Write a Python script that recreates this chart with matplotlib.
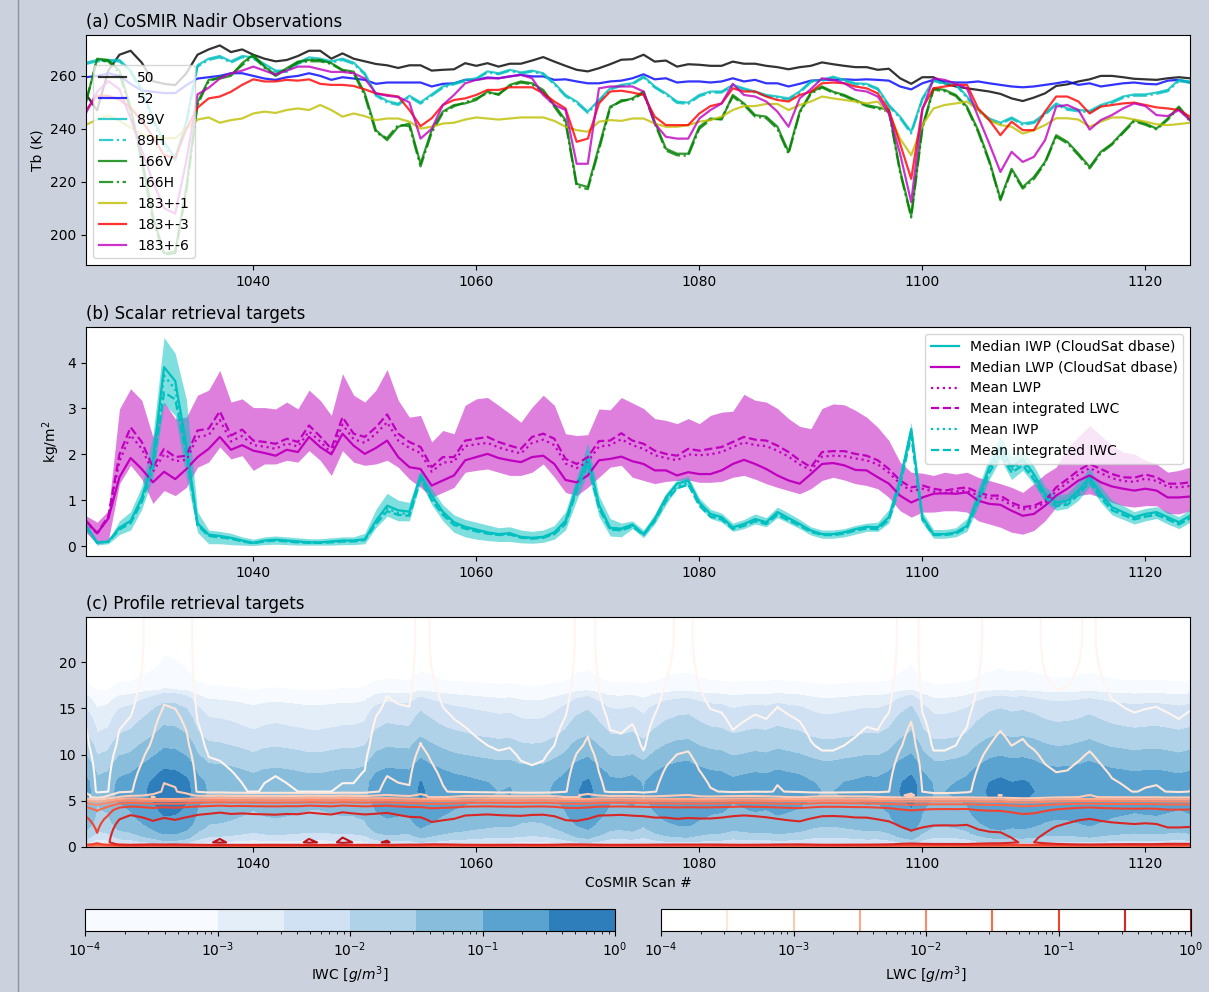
import numpy as np
import matplotlib.pyplot as plt
from matplotlib.colors import LogNorm, ListedColormap
from matplotlib.ticker import LogLocator

plt.rcParams['font.family'] = ['DejaVu Sans']
plt.rcParams['font.size'] = 10

scans = np.arange(1025, 1125)

# (a) 亮温 (K)，每行 10 个扫描
tb_50 = [253, 247, 262, 268, 269.5, 265, 258, 257, 256.5, 261,
         268, 270, 271.5, 269, 270, 268, 266.5, 265.5, 266, 267.5,
         269.5, 269.5, 266.5, 268.5, 266.5, 265.5, 264.5, 264, 263, 264,
         264, 262, 262.3, 262.5, 264.8, 263.8, 264.8, 263.5, 264.6, 264.6,
         265.8, 267.1, 265.4, 263.8, 262.3, 261.7, 262.9, 264.4, 266.1, 266.3,
         268, 265.4, 265.8, 263.5, 264.4, 264.2, 263.8, 263.8, 265.4, 264.6,
         264.6, 263.8, 263.3, 262.5, 263.3, 263.8, 265.1, 264.4, 263.8, 263.3,
         263.3, 262.3, 262.7, 259.1, 257, 259.5, 259.5, 257.2, 256, 255.3,
         254.7, 254.1, 253.2, 251.5, 250.5, 251.8, 253.4, 256.2, 256.8, 257.9,
         258.7, 260, 260, 259.5, 258.9, 258.7, 258.5, 259.1, 259.5, 259.1]
tb_52 = [259.5, 260, 261, 260, 257, 254.5, 254, 253.5, 253.5, 256.5,
         259, 259.5, 260, 261, 261, 260, 259, 258.5, 259.5, 260,
         261, 260, 258.5, 259.5, 259, 258.5, 257, 257.5, 257.5, 257.5,
         257.5, 256, 257, 257.2, 258.5, 258.5, 259.4, 259.1, 259.8, 260.4,
         259.8, 259.8, 258.5, 258.7, 257.9, 257.2, 257.2, 257.9, 258.2, 259.1,
         260.6, 258.7, 259.1, 257.5, 257.9, 257.9, 257.5, 257.9, 259.1, 257.9,
         258.5, 257.2, 257.2, 256, 257, 258.2, 258.5, 258.5, 258.7, 258.5,
         258.7, 258.5, 258.2, 256, 254.9, 257.2, 258.5, 257.9, 257.5, 257.5,
         257.9, 257.2, 256.6, 256, 255.7, 256, 256.6, 257.2, 257.9, 256.6,
         257.2, 256, 256.6, 257.2, 257.5, 257, 256.8, 258.2, 258.5, 257.5]
tb_89v = [265, 266, 266, 266, 262, 255, 244, 235, 229, 243,
          264, 266.5, 267.5, 265.5, 267.5, 267, 264.5, 262, 262, 265,
          267, 266.5, 265.5, 266.5, 265, 261, 253, 250.5, 249.5, 252.5,
          250, 253, 256, 257.2, 258.5, 259.1, 261.7, 261, 262.3, 261.3,
          262, 261, 257.2, 252.8, 250.3, 246.5, 250.9, 255.3, 256.6, 257.2,
          259.8, 256, 253.4, 250.3, 249.9, 252.8, 254.1, 254.1, 256.6, 255.3,
          254.1, 252.8, 252.2, 251.5, 254.1, 258, 258.5, 259.7, 258.5, 257.2,
          257, 255.3, 249, 244.6, 238.9, 251.5, 258.5, 257.2, 257, 252.2,
          247.1, 243.9, 242.3, 244.3, 242, 242.7, 245.8, 249.6, 247.7, 247.1,
          246.8, 249, 250.3, 252.2, 253, 253, 253.7, 254.7, 258.5, 257.9]
tb_89h = [264.5, 265.5, 265.5, 265.5, 261.5, 254, 243, 233.5, 228, 242,
          263.5, 266, 267, 265, 267, 266.5, 264, 261.5, 261.5, 264.5,
          266.5, 266, 265, 266, 264.5, 260.5, 252.5, 250, 249, 252,
          249.5, 252.5, 255.5, 256.8, 258, 258.7, 261.3, 260.6, 261.9, 260.9,
          261.6, 260.6, 256.8, 252.3, 249.8, 246, 250.4, 254.8, 256.2, 256.8,
          259.4, 255.6, 253, 249.8, 249.4, 252.3, 253.6, 253.7, 256.2, 254.9,
          253.7, 252.4, 251.8, 251, 253.6, 257.6, 258.1, 259.3, 258.1, 256.8,
          256.6, 254.9, 248.5, 244, 238.2, 251, 258.1, 256.8, 256.6, 251.7,
          246.6, 243.4, 241.8, 243.8, 241.5, 242.2, 245.3, 249.1, 247.2, 246.6,
          246.3, 248.5, 249.8, 251.7, 252.5, 252.5, 253.2, 254.2, 258, 257.4]
tb_166v = [250, 266.5, 266, 262, 248, 229, 207, 193, 193.5, 218,
           250, 258.5, 259, 260, 264.8, 268, 263.5, 260.4, 262.9, 265.4,
           266, 266, 264.8, 262.3, 261.6, 253.4, 239.5, 235.7, 240.8, 242,
           226.8, 239.5, 246.5, 249, 249.6, 250.9, 254.1, 252.8, 256.6, 257.9,
           257.2, 254.7, 249, 243.3, 219.2, 218, 233.2, 248.4, 250.3, 251.5,
           254.1, 242.7, 232.5, 230.6, 230.6, 240.8, 243.9, 243.5, 252.8, 249.6,
           245.2, 244.6, 240.8, 231.3, 246.5, 253.7, 256, 254, 252.8, 250.9,
           249, 248.1, 247.1, 224.3, 207.2, 240.8, 255.3, 254.7, 252.8, 248.4,
           239.5, 228.1, 213.5, 224.9, 218, 221.8, 227.5, 237.6, 235.1, 230.6,
           225.6, 231.3, 234.4, 238.9, 243.3, 242, 240.1, 243.9, 248.4, 243.3]
tb_166h = [250.5, 266, 265.5, 261, 246.5, 227.5, 205.5, 192.5, 193, 216.5,
           249, 258, 259.5, 260.5, 264, 267.5, 263, 260, 262.5, 265,
           265.5, 265.5, 264.5, 262, 261, 252.5, 238.5, 236.5, 241.5, 241,
           225.8, 238.5, 246, 248.5, 250, 251.5, 253.5, 253.2, 256, 257.5,
           256.8, 254, 248.3, 242.5, 218.2, 217.2, 232, 247.8, 250.8, 251,
           253.6, 242, 231.8, 230, 229.8, 240, 243.4, 244, 252.2, 249,
           244.6, 244, 240, 230.5, 246, 253.2, 255.6, 253.6, 252.4, 250.4,
           248.6, 247.6, 246.5, 223.5, 206.5, 240, 254.8, 254.2, 252.4, 247.8,
           238.8, 227.4, 213, 224.2, 217.4, 221, 227, 237, 234.5, 230,
           225, 230.8, 234, 238.4, 242.8, 241.5, 239.8, 243.4, 248, 242.8]
tb_183_1 = [241.5, 243.5, 245, 243, 240.5, 238, 237, 236.5, 236.5, 240,
            243.5, 244.3, 242.3, 243.3, 243.9, 245.8, 246.5, 246, 247.1, 247.7,
            247.1, 249, 247.1, 244.6, 245.8, 244.8, 243.3, 243.9, 243.9, 242.7,
            240.1, 240.8, 242, 242.3, 243.5, 244.3, 243.9, 243.5, 243.9, 244.3,
            244.3, 244.3, 243, 240.8, 239.5, 238.9, 242.7, 243.3, 243, 243.9,
            243.9, 242, 240.8, 240.8, 241.4, 242.7, 243.3, 244.6, 247.1, 248.6,
            248.6, 249.4, 249.4, 247.1, 249, 250.3, 252.2, 251.5, 250.9, 250.3,
            249.6, 250.3, 245.8, 236.3, 230, 241.4, 247.7, 249, 249.6, 250.3,
            247.1, 243.3, 241.4, 240.8, 238.2, 239.5, 241.4, 244, 244, 243.5,
            240.8, 242.7, 244.3, 244.3, 243.5, 242.7, 241.7, 241.4, 241.8, 242.3]
tb_183_3 = [247, 252.5, 252.5, 251, 248, 243, 237, 230, 229, 240,
            248, 251.5, 252.2, 254, 256.6, 258.7, 257.9, 257.9, 258.5, 258.2,
            258.7, 257, 256.6, 256.6, 256.2, 254.9, 253.4, 252.8, 252.2, 247.1,
            241, 244, 249, 250.9, 251.5, 252.8, 254.7, 254.7, 255.7, 255.7,
            255.7, 253.4, 250.3, 247.7, 235.1, 236.3, 249.6, 254.1, 254.4, 253.7,
            252.8, 244.6, 241.4, 241.4, 241.4, 245.8, 248.6, 249.6, 255.3, 254.1,
            254.1, 252.2, 250.9, 250.3, 252.8, 254, 257.2, 257.5, 257.2, 256,
            255.3, 253.4, 247.1, 234.4, 221.1, 247.7, 255.3, 256, 256.6, 256.6,
            247.7, 243.3, 237.6, 242.7, 239.5, 239.5, 246.5, 252.2, 252.2, 250.3,
            245.8, 248.4, 249, 249.6, 249.9, 249, 248.1, 247.7, 247.1, 244.6]
tb_183_6 = [246, 254, 258, 255, 244, 232, 220, 210, 208, 228,
            253, 255.5, 259, 261, 262, 263.5, 262, 260.5, 262, 263.5,
            263.5, 262.5, 261.5, 261.5, 261, 259, 253.4, 252.5, 252, 250,
            236.3, 240, 249, 252.8, 257.2, 258.5, 259.1, 259.1, 259.8, 260.4,
            259.1, 252.8, 249, 247.1, 226.8, 226.8, 255.3, 256, 256, 256,
            254.1, 242, 237, 236.3, 236.3, 243.9, 247.1, 249.6, 257, 252.8,
            252.2, 250.3, 246.5, 240.8, 251.5, 255, 259.1, 258.5, 257.2, 254.7,
            254.1, 252.2, 245.8, 230.6, 212.3, 247.1, 259.1, 258.5, 257, 255.3,
            244.6, 234.4, 223.7, 231.3, 227.5, 229.4, 235.7, 248.4, 249, 247.1,
            239.7, 243.3, 245.2, 247.7, 249.6, 248.6, 245.2, 244.8, 247.1, 243.3]

# (b) 标量反演目标 (kg/m2)
iwp_median = [0.45, 0.08, 0.1, 0.4, 0.55, 1.05, 1.85, 3.9, 3.6, 2.2,
              0.5, 0.25, 0.22, 0.18, 0.12, 0.07, 0.12, 0.14, 0.12, 0.1,
              0.08, 0.08, 0.1, 0.12, 0.12, 0.15, 0.55, 0.88, 0.78, 0.75,
              1.55, 1.1, 0.75, 0.52, 0.42, 0.36, 0.3, 0.26, 0.28, 0.2,
              0.18, 0.2, 0.3, 0.55, 1.3, 1.95, 0.9, 0.4, 0.38, 0.47,
              0.26, 0.59, 1.06, 1.36, 1.43, 0.95, 0.7, 0.63, 0.41, 0.48,
              0.59, 0.52, 0.74, 0.61, 0.48, 0.34, 0.26, 0.26, 0.3, 0.37,
              0.42, 0.41, 0.63, 1.43, 2.55, 0.63, 0.26, 0.26, 0.3, 0.44,
              1.06, 1.72, 2.16, 1.72, 1.9, 1.57, 1.14, 0.95, 0.99, 1.21,
              1.5, 1.14, 0.85, 0.74, 0.63, 0.7, 0.74, 0.63, 0.52, 0.66]
iwp_mean = [0.43, 0.08, 0.1, 0.38, 0.52, 1.0, 1.78, 3.72, 3.42, 2.1,
            0.47, 0.23, 0.2, 0.17, 0.11, 0.07, 0.11, 0.13, 0.11, 0.09,
            0.08, 0.08, 0.09, 0.11, 0.11, 0.14, 0.52, 0.82, 0.72, 0.7,
            1.5, 1.05, 0.71, 0.49, 0.4, 0.34, 0.28, 0.25, 0.27, 0.19,
            0.17, 0.19, 0.28, 0.52, 1.25, 1.88, 0.86, 0.38, 0.36, 0.45,
            0.25, 0.56, 1.02, 1.3, 1.38, 0.9, 0.66, 0.6, 0.39, 0.46,
            0.56, 0.5, 0.7, 0.58, 0.46, 0.32, 0.25, 0.25, 0.28, 0.35,
            0.4, 0.39, 0.6, 1.38, 2.48, 0.6, 0.25, 0.25, 0.28, 0.42,
            1.0, 1.66, 2.08, 1.66, 1.83, 1.5, 1.1, 0.9, 0.94, 1.16,
            1.44, 1.09, 0.81, 0.7, 0.6, 0.66, 0.7, 0.6, 0.49, 0.62]
iwc_int = [0.42, 0.07, 0.09, 0.36, 0.5, 0.96, 1.7, 3.35, 3.2, 2.0,
           0.45, 0.22, 0.19, 0.16, 0.1, 0.06, 0.1, 0.12, 0.1, 0.08,
           0.07, 0.07, 0.08, 0.1, 0.1, 0.13, 0.48, 0.76, 0.68, 0.66,
           1.45, 1.0, 0.68, 0.46, 0.38, 0.32, 0.27, 0.24, 0.25, 0.18,
           0.16, 0.18, 0.26, 0.48, 1.2, 1.8, 0.82, 0.36, 0.34, 0.43,
           0.24, 0.54, 0.98, 1.26, 1.34, 0.88, 0.64, 0.58, 0.37, 0.44,
           0.54, 0.48, 0.68, 0.56, 0.44, 0.31, 0.24, 0.24, 0.27, 0.34,
           0.38, 0.37, 0.57, 1.32, 2.4, 0.57, 0.24, 0.24, 0.27, 0.4,
           0.96, 1.6, 2.0, 1.6, 1.76, 1.45, 1.06, 0.87, 0.9, 1.12,
           1.4, 1.05, 0.78, 0.68, 0.58, 0.64, 0.68, 0.58, 0.47, 0.6]
iwp_lo = [0.35, 0.02, 0.05, 0.25, 0.35, 0.8, 1.5, 3.1, 2.85, 1.5,
          0.3, 0.05, 0.05, 0.03, 0.02, 0.01, 0.03, 0.04, 0.03, 0.02,
          0.02, 0.02, 0.02, 0.03, 0.03, 0.05, 0.4, 0.65, 0.55, 0.55,
          1.4, 0.9, 0.55, 0.3, 0.2, 0.15, 0.12, 0.1, 0.1, 0.07,
          0.06, 0.08, 0.15, 0.35, 1.0, 1.6, 0.65, 0.22, 0.2, 0.38,
          0.18, 0.48, 0.9, 1.25, 1.32, 0.85, 0.6, 0.52, 0.32, 0.38,
          0.48, 0.42, 0.62, 0.5, 0.38, 0.24, 0.17, 0.17, 0.2, 0.26,
          0.32, 0.32, 0.5, 1.3, 2.4, 0.5, 0.17, 0.17, 0.2, 0.32,
          0.85, 1.45, 1.9, 1.45, 1.65, 1.35, 0.95, 0.78, 0.82, 1.0,
          1.3, 0.95, 0.68, 0.58, 0.48, 0.55, 0.6, 0.48, 0.38, 0.52]
iwp_hi = [0.5, 0.1, 0.12, 0.55, 0.75, 1.3, 2.4, 4.55, 4.2, 3.2,
          0.75, 0.35, 0.32, 0.28, 0.2, 0.15, 0.2, 0.22, 0.2, 0.18,
          0.16, 0.16, 0.18, 0.2, 0.2, 0.28, 0.8, 1.15, 1.0, 0.95,
          1.65, 1.25, 0.9, 0.68, 0.58, 0.52, 0.46, 0.4, 0.42, 0.35,
          0.32, 0.35, 0.45, 0.75, 1.5, 2.25, 1.1, 0.6, 0.5, 0.55,
          0.35, 0.7, 1.15, 1.45, 1.52, 1.05, 0.8, 0.72, 0.5, 0.58,
          0.7, 0.62, 0.85, 0.72, 0.58, 0.42, 0.35, 0.35, 0.38, 0.45,
          0.5, 0.52, 0.8, 1.6, 2.7, 0.75, 0.36, 0.36, 0.4, 0.6,
          1.25, 1.95, 2.4, 1.95, 2.1, 1.75, 1.3, 1.1, 1.15, 1.4,
          1.7, 1.3, 1.0, 0.88, 0.75, 0.82, 0.86, 0.75, 0.64, 0.8]
lwp_median = [0.55, 0.28, 0.6, 1.5, 1.92, 1.68, 1.39, 1.62, 1.46, 1.68,
              1.94, 2.12, 2.38, 2.1, 2.2, 2.08, 2.03, 1.97, 2.1, 2.05,
              2.38, 2.16, 2.0, 2.45, 2.19, 2.01, 2.14, 2.3, 1.94, 1.72,
              1.68, 1.32, 1.43, 1.54, 1.87, 1.94, 2.01, 1.92, 1.87, 1.83,
              1.94, 1.97, 1.79, 1.44, 1.39, 1.54, 1.87, 1.9, 1.95, 1.85,
              1.79, 1.65, 1.65, 1.54, 1.61, 1.57, 1.57, 1.65, 1.79, 1.88,
              1.79, 1.68, 1.54, 1.43, 1.36, 1.57, 1.79, 1.81, 1.76, 1.66,
              1.65, 1.5, 1.36, 1.1, 0.95, 1.06, 1.14, 1.15, 1.14, 1.17,
              0.99, 0.92, 0.9, 0.77, 0.66, 0.7, 0.88, 1.1, 1.25, 1.43,
              1.54, 1.39, 1.3, 1.25, 1.21, 1.25, 1.21, 1.06, 1.06, 1.08]
lwp_mean = [0.52, 0.27, 0.62, 1.85, 2.42, 2.12, 1.62, 2.0, 1.85, 1.88,
            2.38, 2.42, 2.75, 2.28, 2.4, 2.2, 2.17, 2.12, 2.24, 2.17,
            2.5, 2.28, 2.03, 2.65, 2.33, 2.25, 2.45, 2.7, 2.3, 2.14,
            2.03, 1.62, 1.82, 1.84, 2.18, 2.22, 2.25, 2.15, 2.08, 2.02,
            2.25, 2.32, 2.2, 1.8, 1.7, 1.84, 2.17, 2.2, 2.33, 2.2,
            2.12, 1.98, 1.92, 1.87, 2.0, 1.98, 2.0, 2.05, 2.16, 2.26,
            2.2, 2.18, 2.08, 1.95, 1.78, 1.65, 1.95, 1.97, 1.96, 1.91,
            1.87, 1.78, 1.6, 1.36, 1.2, 1.25, 1.19, 1.15, 1.19, 1.21,
            1.1, 1.04, 1.03, 0.89, 0.8, 0.83, 0.94, 1.2, 1.38, 1.56,
            1.7, 1.59, 1.48, 1.42, 1.4, 1.47, 1.42, 1.29, 1.28, 1.31]
lwc_int = [0.55, 0.28, 0.65, 2.0, 2.59, 2.27, 1.72, 2.12, 1.94, 1.97,
           2.52, 2.56, 2.94, 2.41, 2.54, 2.3, 2.27, 2.23, 2.34, 2.27,
           2.63, 2.39, 2.12, 2.81, 2.45, 2.38, 2.59, 2.87, 2.45, 2.27,
           2.16, 1.72, 1.94, 1.94, 2.3, 2.34, 2.38, 2.27, 2.19, 2.12,
           2.38, 2.45, 2.34, 1.9, 1.79, 1.94, 2.29, 2.3, 2.46, 2.3,
           2.23, 2.08, 2.01, 1.97, 2.12, 2.08, 2.12, 2.16, 2.27, 2.38,
           2.32, 2.3, 2.19, 2.05, 1.87, 1.72, 2.05, 2.07, 2.07, 2.01,
           1.97, 1.87, 1.68, 1.43, 1.28, 1.32, 1.25, 1.21, 1.25, 1.28,
           1.17, 1.1, 1.1, 0.95, 0.85, 0.88, 0.99, 1.28, 1.46, 1.65,
           1.79, 1.68, 1.57, 1.5, 1.49, 1.56, 1.5, 1.36, 1.36, 1.39]
lwp_lo = [0.3, 0.04, 0.12, 1.36, 1.76, 1.46, 0.93, 1.21, 1.1, 1.28,
          1.72, 1.83, 2.16, 1.9, 1.97, 1.65, 1.79, 1.79, 1.87, 1.83,
          2.08, 1.87, 1.54, 2.08, 1.83, 1.76, 1.79, 1.87, 1.72, 1.46,
          1.28, 1.06, 1.17, 1.28, 1.61, 1.65, 1.68, 1.61, 1.54, 1.54,
          1.61, 1.79, 1.5, 1.17, 1.1, 1.28, 1.5, 1.72, 1.76, 1.5,
          1.43, 1.36, 1.41, 1.43, 1.44, 1.39, 1.39, 1.41, 1.5, 1.54,
          1.46, 1.36, 1.28, 1.21, 1.14, 1.25, 1.43, 1.5, 1.44, 1.36,
          1.32, 1.25, 1.06, 0.77, 0.63, 0.74, 0.74, 0.77, 0.77, 0.74,
          0.55, 0.48, 0.41, 0.3, 0.26, 0.34, 0.55, 0.85, 0.99, 1.1,
          1.14, 1.06, 0.95, 0.88, 0.85, 0.88, 0.88, 0.71, 0.7, 0.77]
lwp_hi = [0.66, 0.52, 0.77, 2.99, 3.43, 3.18, 2.38, 3.14, 2.78, 2.81,
          3.29, 3.4, 3.83, 3.14, 3.21, 3.02, 3.02, 2.99, 3.14, 2.99,
          3.4, 3.18, 2.85, 3.76, 3.29, 3.14, 3.4, 3.85, 3.18, 2.81,
          2.85, 2.27, 2.52, 2.45, 3.07, 3.21, 3.24, 3.07, 2.89, 2.7,
          3.03, 3.29, 3.07, 2.45, 2.41, 2.43, 2.99, 2.97, 3.24, 3.12,
          3.0, 2.78, 2.74, 2.67, 2.78, 2.67, 2.85, 2.92, 2.94, 3.31,
          3.18, 3.14, 3.0, 2.78, 2.61, 2.56, 3.0, 3.1, 3.08, 2.96,
          2.81, 2.59, 2.3, 1.83, 1.61, 1.59, 1.54, 1.61, 1.57, 1.61,
          1.5, 1.43, 1.36, 1.28, 1.17, 1.36, 1.57, 1.72, 2.16, 2.38,
          2.63, 2.41, 2.19, 2.05, 2.01, 1.87, 1.79, 1.61, 1.65, 1.72]

# (c) 廓线：高度 (km)、垂直形状 (每单位柱强度) 和每个扫描的冰柱强度
heights = [0, 0.15, 0.3, 0.5, 1, 1.5, 2, 2.5, 3, 3.5, 4, 4.4, 4.7, 5.0, 5.2, 5.4, 5.6,
           6, 7, 8, 9, 10, 11, 12, 13, 14, 15, 16, 17, 18, 19, 20, 22, 24.9]
ice_shape = [1e-5, 5e-5, 1e-4, 0.0015, 0.005, 0.01, 0.015, 0.02, 0.025, 0.03, 0.035,
             0.038, 0.041, 0.045, 0.048, 0.05, 0.052, 0.055, 0.05, 0.034, 0.02, 0.012,
             0.0075, 0.0045, 0.003, 0.002, 0.0013, 0.0006, 0.0001, 3e-5, 1.5e-5,
             1e-5, 7e-6, 5e-6]
liq_shape = [1e-6, 0.02, 0.25, 0.45, 0.41, 0.36, 0.31, 0.26, 0.21, 0.16, 0.10,
             0.05, 0.02, 0.006, 0.002, 0.0007, 0.0003, 0, 0, 0, 0, 0, 0, 0, 0, 0,
             0, 0, 0, 0, 0, 0, 0, 0]
liq_upper = [0, 0, 0, 0, 0, 0, 0, 0, 0, 0, 0, 0, 0, 0, 0, 0, 1e-4,
             1e-4, 9e-5, 8e-5, 7e-5, 6e-5, 5e-5, 4.5e-5, 4e-5, 3.5e-5, 3e-5, 2.7e-5,
             2.5e-5, 2.3e-5, 2.2e-5, 2.1e-5, 2e-5, 2e-5]
ice_col = [2.5, 0.8, 1.0, 2.4, 2.9, 4.6, 7.0, 11, 10.5, 7.5,
           2.7, 1.6, 1.5, 1.3, 1.1, 0.9, 1.1, 1.2, 1.1, 1.0,
           0.9, 0.9, 1.0, 1.1, 1.1, 1.3, 2.9, 3.8, 3.5, 3.4,
           6.5, 4.6, 3.4, 2.8, 2.5, 2.2, 2.0, 1.8, 1.9, 1.5,
           1.4, 1.5, 2.0, 2.9, 5.4, 7.0, 4.0, 2.4, 2.3, 2.6,
           1.8, 3.0, 4.3, 5.3, 5.6, 4.1, 3.3, 3.1, 2.4, 2.7,
           3.0, 2.8, 3.4, 3.0, 2.7, 2.1, 1.8, 1.8, 2.0, 2.2,
           2.5, 2.4, 3.1, 5.8, 8.5, 3.1, 1.8, 1.8, 2.0, 2.5,
           4.3, 6.3, 7.5, 6.3, 6.8, 5.8, 4.5, 4.0, 4.1, 4.7,
           5.6, 4.5, 3.7, 3.4, 3.1, 3.3, 3.4, 3.1, 2.8, 3.2]

iwc = np.outer(ice_shape, ice_col)
lwc = np.outer(liq_shape, lwp_median) + np.outer(liq_upper, ice_col)

iwc_levels = [1e-4, 1e-3, 10**-2.5, 1e-2, 10**-1.5, 1e-1, 10**-0.5, 1]
lwc_levels = np.logspace(-4, 0, 9)
# 每一层的颜色 (第 0 项只是占位)
iwc_colors = ['#f7fbff', '#f7fbff', '#e3eef9', '#cfe1f2', '#b0d2e8',
              '#88bedc', '#5aa2cf', '#2f7ebc']
blues = ListedColormap(iwc_colors)
reds = ListedColormap(plt.cm.Reds(np.linspace(0, 0.8, 256)))

# 版面 (像素)
W, H = 1209, 992
def px(l, t, r, b):
    return [l / W, 1 - b / H, (r - l) / W, (b - t) / H]

fig = plt.figure(figsize=(W / 100, H / 100), dpi=100, facecolor='#cbd2de')
fig.add_artist(plt.Line2D([17.5 / W, 17.5 / W], [0, 1], transform=fig.transFigure,
                          color='#8a93a0', lw=1))

ax1 = fig.add_axes(px(86, 35, 1190, 265))
ax2 = fig.add_axes(px(86, 327, 1190, 556))
ax3 = fig.add_axes(px(86, 617, 1190, 847))
cax1 = fig.add_axes(px(85, 909, 615, 931))
cax2 = fig.add_axes(px(661, 909, 1191, 931))

# (a)
lw = 1.6
ax1.plot(scans, tb_50, color='k', alpha=0.8, lw=lw, label='50')
ax1.plot(scans, tb_52, color='b', alpha=0.8, lw=lw, label='52')
ax1.plot(scans, tb_89v, color='c', alpha=0.8, lw=lw, label='89V')
ax1.plot(scans, tb_89h, color='c', alpha=0.8, lw=lw, ls='-.', label='89H')
ax1.plot(scans, tb_166v, color='g', alpha=0.8, lw=lw, label='166V')
ax1.plot(scans, tb_166h, color='g', alpha=0.8, lw=lw, ls='-.', label='166H')
ax1.plot(scans, tb_183_1, color='y', alpha=0.8, lw=lw, label='183+-1')
ax1.plot(scans, tb_183_3, color='r', alpha=0.8, lw=lw, label='183+-3')
ax1.plot(scans, tb_183_6, color='m', alpha=0.8, lw=lw, label='183+-6')
ax1.set_xlim(1025, 1124)
ax1.set_ylabel('Tb (K)')
ax1.set_title('(a) CoSMIR Nadir Observations', loc='left')
ax1.legend(loc='lower left')

# (b)
ax2.fill_between(scans, lwp_lo, lwp_hi, color='m', alpha=0.5, lw=0)
ax2.fill_between(scans, iwp_lo, iwp_hi, color='c', alpha=0.5, lw=0)
ax2.plot(scans, iwp_median, color='c', lw=lw, label='Median IWP (CloudSat dbase)')
ax2.plot(scans, lwp_median, color='m', lw=lw, label='Median LWP (CloudSat dbase)')
ax2.plot(scans, lwp_mean, color='m', lw=lw, ls=':', label='Mean LWP')
ax2.plot(scans, lwc_int, color='m', lw=lw, ls='--', label='Mean integrated LWC')
ax2.plot(scans, iwp_mean, color='c', lw=lw, ls=':', label='Mean IWP')
ax2.plot(scans, iwc_int, color='c', lw=lw, ls='--', label='Mean integrated IWC')
ax2.set_xlim(1025, 1124)
ax2.set_ylabel('kg/m$^2$')
ax2.set_title('(b) Scalar retrieval targets', loc='left')
ax2.legend(loc='upper right')

# (c)
cf = ax3.contourf(scans, heights, iwc, levels=iwc_levels, cmap=blues,
                  norm=LogNorm(1e-4, 1))
cl = ax3.contour(scans, heights, lwc, levels=lwc_levels, cmap=reds,
                 norm=LogNorm(1e-4, 1), linewidths=1.5)
ax3.set_xlim(1025, 1124)
ax3.set_ylim(0, 24.9)
ax3.set_xlabel('CoSMIR Scan #')
ax3.set_title('(c) Profile retrieval targets', loc='left')

cb1 = fig.colorbar(cf, cax=cax1, orientation='horizontal', label='IWC [$g/m^3$]')
cb2 = fig.colorbar(cl, cax=cax2, orientation='horizontal', label='LWC [$g/m^3$]')
for cb in (cb1, cb2):
    cb.set_ticks([1e-4, 1e-3, 1e-2, 1e-1, 1])
    cb.minorlocator = LogLocator(base=10, subs=np.arange(2, 10))

fig.savefig('out.png', dpi=100, facecolor=fig.get_facecolor())
